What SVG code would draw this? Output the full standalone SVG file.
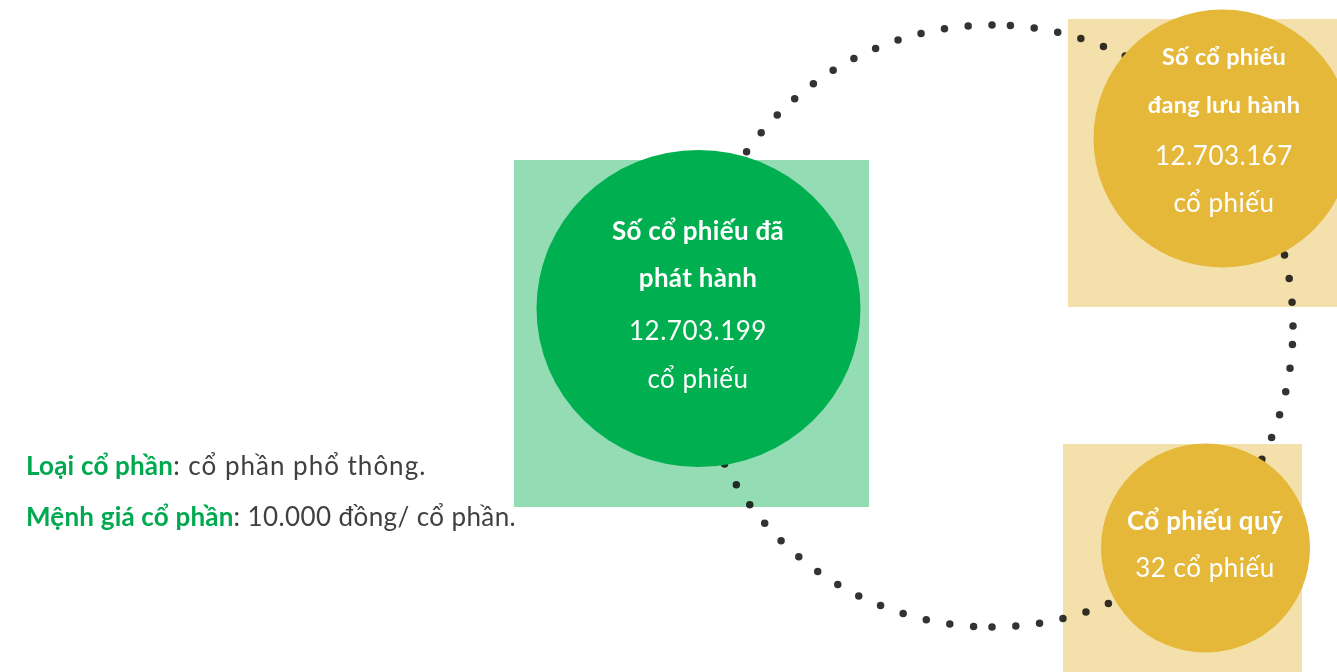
<svg xmlns="http://www.w3.org/2000/svg" width="1337" height="672" viewBox="0 0 1337 672">
  <style>
    text { font-family: "Lato", "Noto Sans", "Open Sans", sans-serif; }
    .dots { fill: none; stroke: #333333; stroke-width: 7.5; stroke-linecap: round; stroke-dasharray: 0 23.9; }
    .pad { mix-blend-mode: multiply; }
    .pad-green { fill: #94DDB4; }
    .pad-yellow { fill: #F4E0AA; }
    .disc-green { fill: #00AF4F; }
    .disc-yellow { fill: #E5B839; }
    .title { fill: #FFFFFF; font-weight: 700; text-anchor: middle; letter-spacing: 0.3px; }
    .value { fill: #FFFFFF; font-weight: 400; text-anchor: middle; letter-spacing: 0.5px; }
    .note { font-size: 26px; fill: #404040; }
    .note-key { fill: #00A94F; font-weight: 700; letter-spacing: 0.2px; }
    .note-type { letter-spacing: 1px; }
    .note-par { letter-spacing: 0.4px; }
  </style>

  <rect width="1337" height="672" fill="#FFFFFF"/>

  <!-- dotted ring linking the three share groups: four quarter arcs, each starting at a cardinal point -->
  <g id="connectors">
    <path class="dots" d="M 1293 326 A 301 301 0 0 0 992 25"/>
    <path class="dots" d="M 992 25 A 301 301 0 0 0 691 326"/>
    <path class="dots" d="M 691 326 A 301 301 0 0 0 992 627"/>
    <path class="dots" d="M 992 627 A 301 301 0 0 0 1293 326"/>
  </g>

  <!-- issued shares -->
  <g id="node-issued">
    <rect class="pad pad-green" x="514" y="160" width="355" height="347"/>
    <ellipse class="disc-green" cx="698.5" cy="308.5" rx="162" ry="158.5"/>
    <text class="title" x="698" y="240" font-size="26">Số cổ phiếu đã</text>
    <text class="title" x="698" y="287" font-size="26">phát hành</text>
    <text class="value" x="698" y="340" font-size="26">12.703.199</text>
    <text class="value" x="698" y="388" font-size="26">cổ phiếu</text>
  </g>

  <!-- outstanding shares -->
  <g id="node-outstanding">
    <rect class="pad pad-yellow" x="1068" y="19" width="269" height="288"/>
    <circle class="disc-yellow" cx="1222.5" cy="138.5" r="129"/>
    <text class="title" x="1224" y="65" font-size="23.5">Số cổ phiếu</text>
    <text class="title" x="1224" y="113" font-size="23.5">đang lưu hành</text>
    <text class="value" x="1224" y="165" font-size="26">12.703.167</text>
    <text class="value" x="1224" y="212" font-size="26">cổ phiếu</text>
  </g>

  <!-- treasury shares -->
  <g id="node-treasury">
    <rect class="pad pad-yellow" x="1063" y="444" width="239" height="228"/>
    <circle class="disc-yellow" cx="1205.5" cy="548" r="104.5"/>
    <text class="title" x="1205" y="530" font-size="26">Cổ phiếu quỹ</text>
    <text class="value" x="1205" y="577" font-size="26">32 cổ phiếu</text>
  </g>

  <!-- share type and par value -->
  <g id="share-notes">
    <text class="note" x="26" y="475"><tspan class="note-key">Loại cổ phần</tspan><tspan class="note-type">: cổ phần phổ thông.</tspan></text>
    <text class="note" x="26" y="526"><tspan class="note-key">Mệnh giá cổ phần</tspan><tspan class="note-par">: 10.000 đồng/ cổ phần.</tspan></text>
  </g>
</svg>
